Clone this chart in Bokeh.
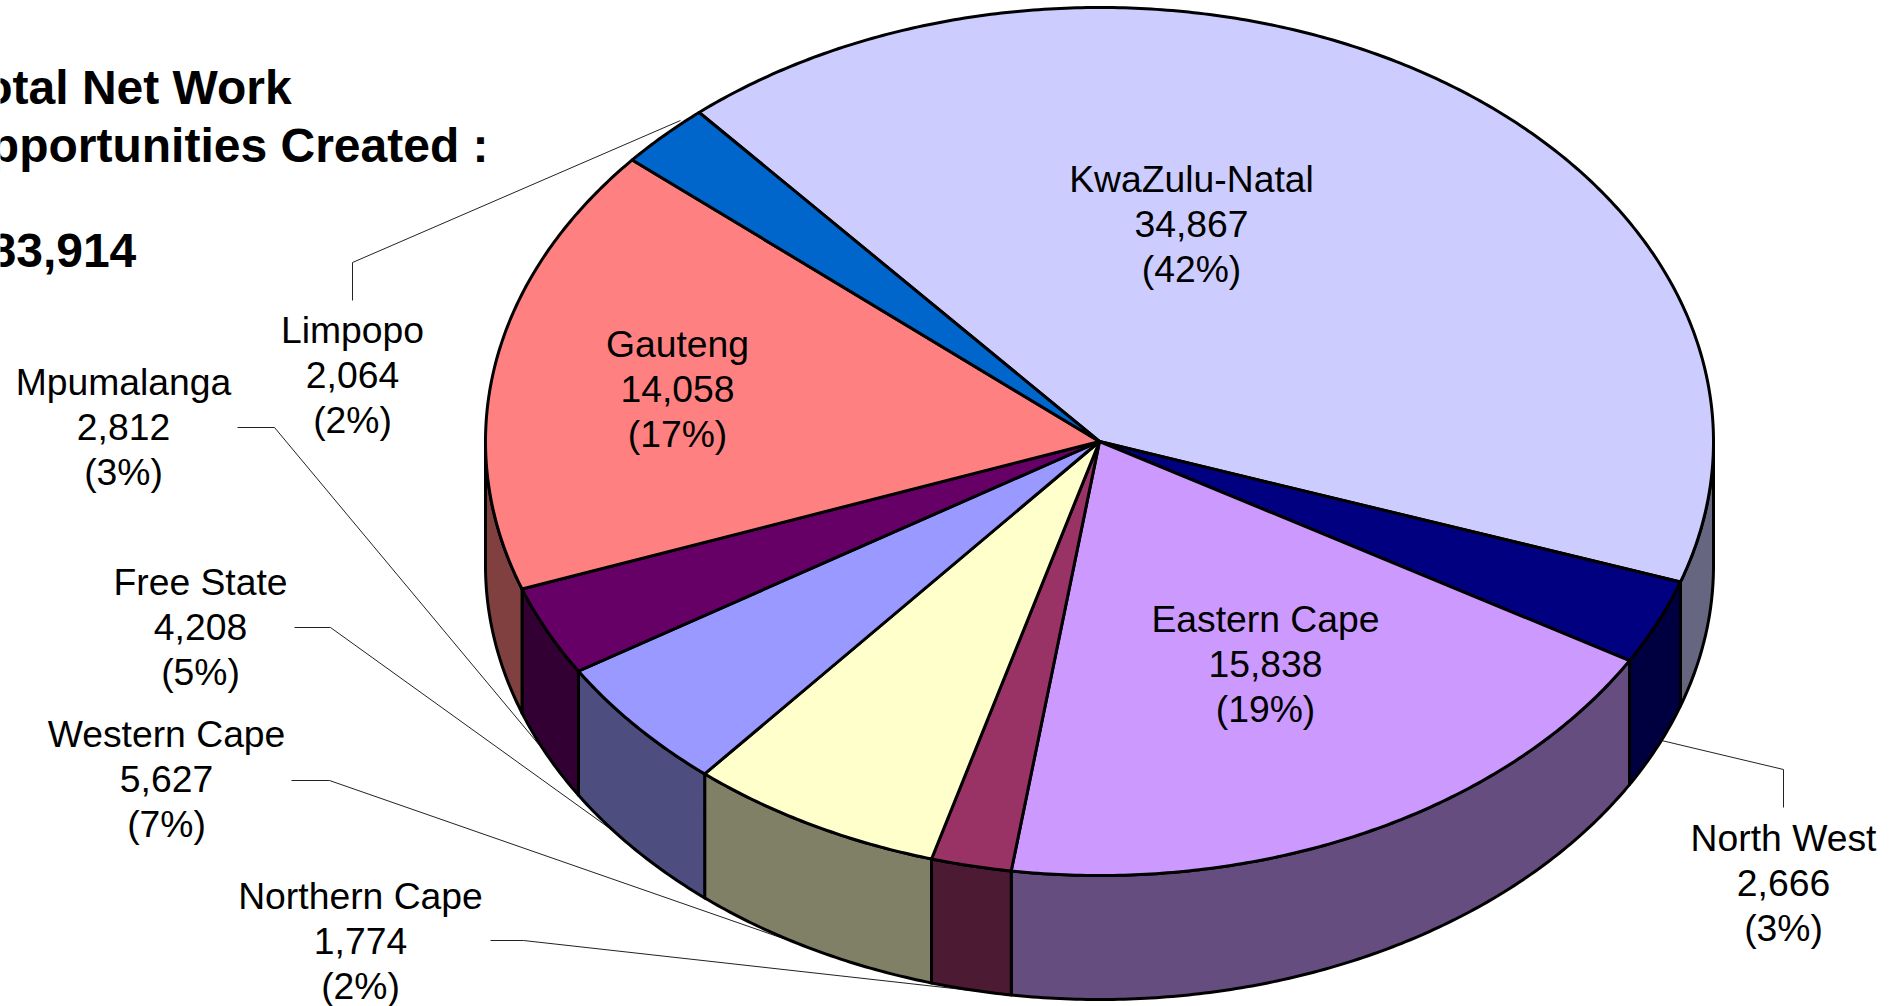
import math
from bokeh.plotting import figure
from bokeh.embed import file_html
from bokeh.resources import INLINE
from bokeh.core.properties import value

# ---- data ----
provinces = ["KwaZulu-Natal", "North West", "Eastern Cape", "Northern Cape", "Western Cape",
             "Free State", "Mpumalanga", "Gauteng", "Limpopo"]
opportunities = [34867, 2666, 15838, 1774, 5627, 4208, 2812, 14058, 2064]
top_colors = ["#CCCCFF", "#000080", "#CC99FF", "#993366", "#FFFFCC", "#9999FF", "#660066", "#FF8080", "#0066CC"]
side_colors = ["#666680", "#000040", "#664D80", "#4D1A33", "#808066", "#4D4D80", "#330033", "#804040", "#003366"]
heading_lines = ["Total Net Work", "Opportunities Created :", "83,914"]

# ---- layout (reference pixels) ----
W, H = 1895, 1006
CX, CY, RX, RY, DEPTH = 1099.0, 441.0, 614.0, 434.0, 124.0
START_DEG = -130.7
FONT = "Liberation Sans"
LABEL_PX = 37.3
LINE_STEP = 45.3
label_centers = {  # first-line vertical centre
    "KwaZulu-Natal": (1191, 178), "North West": (1783, 837), "Eastern Cape": (1265, 618),
    "Northern Cape": (360, 895), "Western Cape": (166, 733), "Free State": (200, 581),
    "Mpumalanga": (123, 381), "Gauteng": (677, 343), "Limpopo": (352, 329),
}
leaders = [
    ([352, 352, 680], [300, 262, 120]),
    ([237, 274, 550], [427, 427, 758]),
    ([294, 330, 640], [627, 627, 850]),
    ([291, 329, 800], [780, 780, 944]),
    ([490, 523, 980], [940, 940, 991]),
    ([1783, 1783, 1640], [807, 769, 735]),
]
heading_pos = [(-43, 87), (-48, 145), (-11, 250)]

p = figure(width=W, height=H, x_range=(0, W), y_range=(H, 0), output_backend="svg",
           toolbar_location=None, min_border=0, outline_line_color=None)
p.axis.visible = False
p.grid.visible = False

total = sum(opportunities)
edges = [START_DEG]
for v in opportunities:
    edges.append(edges[-1] + 360.0 * v / total)

def ell(deg, dy=0.0):
    t = math.radians(deg)
    return CX + RX * math.cos(t), CY + RY * math.sin(t) + dy

def arc(a, b):
    n = max(2, int(abs(b - a) * 2) + 1)
    return [a + (b - a) * i / (n - 1) for i in range(n)]

# leader lines run behind the pie
p.multi_line([l[0] for l in leaders], [l[1] for l in leaders], line_color="#222222", line_width=1)

# walls: only the front half of the rim shows
wx, wy, wc = [], [], []
for i in range(len(opportunities)):
    for k in (-1, 0, 1):
        a = max(edges[i] + 360 * k, 0.0)
        b = min(edges[i + 1] + 360 * k, 180.0)
        if b > a:
            deg = arc(a, b)
            top = [ell(d) for d in deg]
            bot = [ell(d, DEPTH) for d in reversed(deg)]
            wx.append([q[0] for q in top + bot])
            wy.append([q[1] for q in top + bot])
            wc.append(side_colors[i])
p.patches(wx, wy, fill_color=wc, line_color="black", line_width=3, line_join="round")

# top faces
sx, sy = [], []
for i in range(len(opportunities)):
    pts = [ell(d) for d in arc(edges[i], edges[i + 1])]
    sx.append([CX] + [q[0] for q in pts])
    sy.append([CY] + [q[1] for q in pts])
p.patches(sx, sy, fill_color=top_colors, line_color="black", line_width=3, line_join="round")

# labels
tx, ty, tt = [], [], []
for name, v in zip(provinces, opportunities):
    c = label_centers[name]
    for j, s in enumerate([name, f"{v:,}", f"({round(100 * v / total)}%)"]):
        tx.append(c[0]); ty.append(c[1] + j * LINE_STEP); tt.append(s)
p.text(tx, ty, text=tt, text_align="center", text_baseline="middle", text_color="black",
       text_font=value(FONT), text_font_size=f"{LABEL_PX}px")

p.text([q[0] for q in heading_pos], [q[1] for q in heading_pos], text=heading_lines,
       text_align="left", text_baseline="middle", text_color="black",
       text_font=value(FONT), text_font_style="bold", text_font_size="48px")

open("out.html", "w").write(file_html(p, INLINE))
